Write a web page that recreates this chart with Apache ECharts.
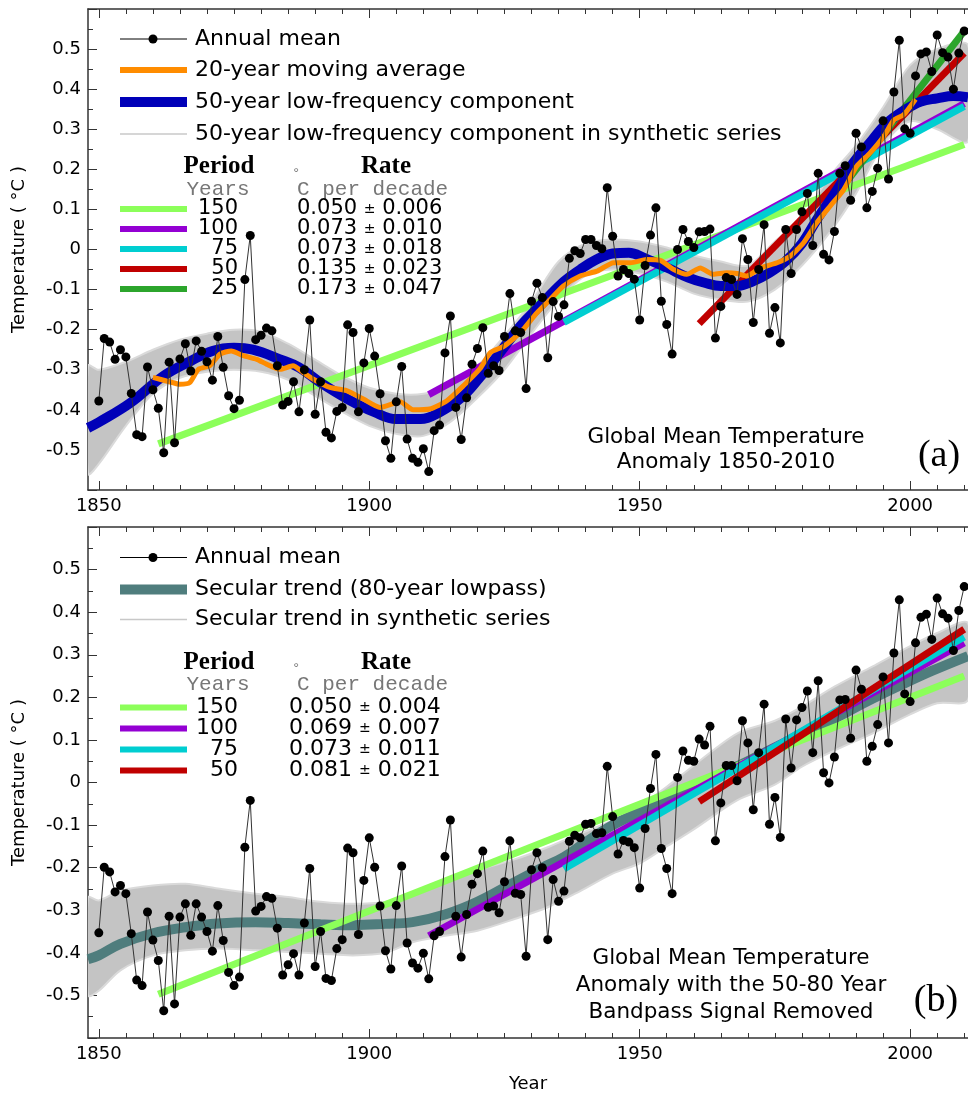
<!DOCTYPE html>
<html>
<head>
<meta charset="utf-8">
<script src="https://cdn.jsdelivr.net/npm/echarts@6/dist/echarts.min.js"></script>
<style>
  html, body { margin: 0; padding: 0; background: #fff; }
  #chart { width: 968px; height: 1098px; }
</style>
</head>
<body>
<div id="chart"></div>
<script>
// ---- data ----
const firstYear = 1850;

// (a) annual global mean temperature anomaly, 1850-2010
const annualTop = [
  -0.378,-0.222,-0.231,-0.274,-0.250,-0.268,-0.359,-0.462,-0.467,-0.293,
  -0.350,-0.396,-0.507,-0.281,-0.482,-0.273,-0.235,-0.303,-0.228,-0.254,
  -0.280,-0.326,-0.217,-0.294,-0.365,-0.397,-0.376,-0.075, 0.035,-0.225,
  -0.214,-0.196,-0.203,-0.290,-0.388,-0.379,-0.330,-0.405,-0.300,-0.176,
  -0.411,-0.330,-0.456,-0.470,-0.404,-0.394,-0.188,-0.207,-0.405,-0.283,
  -0.197,-0.266,-0.360,-0.477,-0.521,-0.380,-0.292,-0.473,-0.521,-0.531,
  -0.497,-0.554,-0.452,-0.438,-0.258,-0.166,-0.394,-0.474,-0.370,-0.286,
  -0.247,-0.195,-0.309,-0.290,-0.302,-0.217,-0.110,-0.203,-0.207,-0.347,
  -0.129,-0.084,-0.120,-0.270,-0.130,-0.167,-0.138,-0.022,-0.003,-0.010,
   0.025, 0.025, 0.010, 0.002, 0.154, 0.033,-0.066,-0.050,-0.060,-0.074,
  -0.176,-0.040, 0.036, 0.104,-0.129,-0.187,-0.261, 0.000, 0.050, 0.020,
   0.005, 0.044, 0.045, 0.051,-0.221,-0.142,-0.070,-0.075,-0.112, 0.027,
  -0.025,-0.182,-0.050, 0.062,-0.209,-0.145,-0.233, 0.050,-0.060, 0.050,
   0.094, 0.140, 0.010, 0.190,-0.012,-0.026, 0.045, 0.190, 0.209, 0.123,
   0.290, 0.256, 0.104, 0.145, 0.203, 0.321, 0.176, 0.393, 0.522, 0.301,
   0.290, 0.433, 0.488, 0.493, 0.444, 0.535, 0.491, 0.480, 0.400, 0.490,
   0.545
];

// (b) annual mean with the 50-80 year bandpass signal removed
const annualBottom = [
  -0.353,-0.199,-0.210,-0.257,-0.242,-0.261,-0.355,-0.464,-0.477,-0.304,
  -0.370,-0.418,-0.536,-0.314,-0.520,-0.316,-0.285,-0.359,-0.285,-0.316,
  -0.350,-0.396,-0.289,-0.371,-0.446,-0.477,-0.457,-0.152,-0.042,-0.302,
  -0.291,-0.268,-0.272,-0.342,-0.452,-0.428,-0.402,-0.452,-0.330,-0.202,
  -0.432,-0.350,-0.460,-0.465,-0.390,-0.369,-0.154,-0.165,-0.357,-0.230,
  -0.130,-0.199,-0.290,-0.395,-0.438,-0.289,-0.196,-0.377,-0.424,-0.436,
  -0.401,-0.461,-0.360,-0.350,-0.174,-0.088,-0.314,-0.410,-0.310,-0.239,
  -0.214,-0.161,-0.293,-0.290,-0.306,-0.233,-0.137,-0.260,-0.263,-0.408,
  -0.205,-0.165,-0.200,-0.369,-0.228,-0.279,-0.255,-0.138,-0.124,-0.130,
  -0.098,-0.096,-0.120,-0.118, 0.038,-0.080,-0.168,-0.136,-0.140,-0.153,
  -0.248,-0.108,-0.014, 0.066,-0.155,-0.202,-0.261, 0.012, 0.074, 0.052,
   0.050, 0.102, 0.088, 0.132,-0.137,-0.048, 0.040, 0.040, 0.004, 0.145,
   0.093,-0.064, 0.070, 0.184,-0.098,-0.035,-0.129, 0.149, 0.034, 0.147,
   0.176, 0.215, 0.070, 0.239, 0.023,-0.001, 0.060, 0.194, 0.195, 0.104,
   0.264, 0.219, 0.050, 0.085, 0.136, 0.248, 0.093, 0.304, 0.429, 0.208,
   0.190, 0.328, 0.388, 0.395, 0.336, 0.433, 0.396, 0.386, 0.310, 0.404,
   0.460
];

// 20-year moving average [year, value]
const movingAvg20 = [
  [1860,-0.319],[1862.5,-0.328],[1865,-0.336],[1866.8,-0.332],[1868.4,-0.299],
  [1870.5,-0.290],[1872.4,-0.261],[1874.5,-0.253],[1876.7,-0.265],[1879.2,-0.274],
  [1881,-0.286],[1883.5,-0.299],[1885.9,-0.290],[1887.8,-0.307],[1889.6,-0.323],
  [1892.7,-0.344],[1895.8,-0.352],[1898.9,-0.373],[1902,-0.394],[1905.7,-0.380],
  [1908.1,-0.400],[1911.2,-0.398],[1914.3,-0.378],[1917.4,-0.340],[1920.5,-0.297],
  [1922.4,-0.257],[1924.8,-0.242],[1926.7,-0.222],[1928.5,-0.199],[1931,-0.158],
  [1933.5,-0.124],[1935.9,-0.091],[1939,-0.066],[1942.1,-0.054],[1945.2,-0.033],
  [1948.3,-0.033],[1951.3,-0.025],[1953.8,-0.027],[1956.3,-0.050],[1958.7,-0.062],
  [1961.2,-0.046],[1963.6,-0.062],[1966.1,-0.058],[1968,-0.060],[1969.8,-0.066],
  [1972.3,-0.046],[1975.4,-0.033],[1977.8,-0.017],[1980.3,0.017],[1982.7,0.066],
  [1985.2,0.108],[1987.7,0.149],[1990.1,0.207],[1992.6,0.241],[1995.1,0.282],
  [1997,0.323],[1998.8,0.336],[2001,0.375]
];

// 50-year low-frequency component [year, value]
const lowFreq50 = [
  [1848,-0.445],[1850,-0.431],[1856,-0.381],[1862,-0.315],[1867,-0.278],[1871,-0.253],
  [1875,-0.245],[1878.5,-0.250],[1883.5,-0.274],[1887,-0.294],[1891,-0.332],[1896,-0.373],
  [1901,-0.406],[1905,-0.423],[1909.5,-0.423],[1913,-0.406],[1917,-0.370],[1920.5,-0.318],
  [1924,-0.260],[1928,-0.190],[1931,-0.148],[1936,-0.080],[1939,-0.050],[1942,-0.025],
  [1945,-0.010],[1948,-0.008],[1951,-0.022],[1955,-0.045],[1959,-0.070],[1962,-0.083],
  [1965,-0.091],[1968,-0.091],[1971,-0.079],[1974,-0.058],[1977,-0.029],[1980,0.015],
  [1983,0.080],[1986.5,0.149],[1989.5,0.216],[1992.5,0.265],[1995.5,0.313],[1999,0.348],
  [2002,0.369],[2005,0.377],[2008,0.383],[2010.7,0.380]
];

// spread of the synthetic series [year, low, high]
const synthBandTop = [
  [1848,-0.56,-0.29],[1850,-0.535,-0.30],[1855,-0.44,-0.28],[1860,-0.36,-0.25],
  [1865,-0.32,-0.225],[1870,-0.305,-0.21],[1875,-0.30,-0.20],[1880,-0.305,-0.205],
  [1885,-0.325,-0.235],[1890,-0.365,-0.275],[1895,-0.405,-0.315],[1900,-0.44,-0.345],
  [1905,-0.46,-0.36],[1910,-0.465,-0.36],[1915,-0.43,-0.34],[1920,-0.37,-0.29],
  [1925,-0.30,-0.215],[1930,-0.21,-0.13],[1935,-0.125,-0.03],[1940,-0.065,0.015],
  [1945,-0.05,0.025],[1950,-0.06,0.02],[1955,-0.08,0.005],[1960,-0.11,-0.015],
  [1965,-0.125,-0.03],[1970,-0.13,-0.04],[1975,-0.10,0.02],[1980,-0.04,0.08],
  [1985,0.04,0.18],[1990,0.14,0.26],[1995,0.26,0.355],[2000,0.32,0.46],
  [2005,0.30,0.50],[2010.7,0.27,0.51]
];

// secular trend (80-year lowpass) [year, value]
const secularTrend = [
  [1848,-0.415],[1850,-0.406],[1854,-0.379],[1860,-0.354],[1866,-0.340],[1872,-0.331],
  [1879,-0.328],[1885,-0.330],[1891,-0.333],[1897,-0.335],[1903,-0.332],[1908,-0.328],
  [1914,-0.310],[1920,-0.280],[1926,-0.240],[1932,-0.200],[1936,-0.175],[1940,-0.140],
  [1945,-0.100],[1950,-0.070],[1955,-0.045],[1960,-0.012],[1965,0.020],[1970,0.050],
  [1975,0.082],[1980,0.113],[1986,0.150],[1992,0.190],[1998,0.227],[2004,0.262],
  [2010.7,0.297]
];

const synthBandBottom = [
  [1848,-0.50,-0.27],[1850,-0.489,-0.277],[1854,-0.441,-0.254],[1860,-0.406,-0.242],
  [1866,-0.394,-0.238],[1872,-0.39,-0.249],[1879,-0.394,-0.261],[1885,-0.398,-0.269],
  [1891,-0.402,-0.28],[1897,-0.406,-0.285],[1903,-0.40,-0.28],[1908,-0.375,-0.261],
  [1914,-0.36,-0.235],[1920,-0.348,-0.206],[1927,-0.32,-0.18],[1933,-0.293,-0.152],
  [1939,-0.255,-0.12],[1945,-0.214,-0.089],[1950,-0.19,-0.055],[1955,-0.15,-0.01],
  [1960,-0.11,0.04],[1968,-0.042,0.115],[1975,-0.005,0.145],[1980,0.037,0.178],
  [1986,0.075,0.225],[1993,0.115,0.272],[2000,0.16,0.32],[2005,0.186,0.351],
  [2010.7,0.194,0.374]
];

// linear trends: periods, rates and end points
const periodsTop = ['150', '100', '75', '50', '25'];
const ratesTop = [['0.050','0.006'], ['0.073','0.010'], ['0.073','0.018'], ['0.135','0.023'], ['0.173','0.047']];
const trendsTop = [
  [[1861,-0.485],[2010,0.262]],
  [[1911,-0.362],[2010,0.364]],
  [[1936,-0.182],[2010,0.357]],
  [[1961,-0.185],[2010,0.490]],
  [[1986,0.130],[2010,0.545]]
];
const periodsBottom = ['150', '100', '75', '50'];
const ratesBottom = [['0.050','0.004'], ['0.069','0.007'], ['0.073','0.011'], ['0.081','0.021']];
const trendsBottom = [
  [[1861,-0.497],[2010,0.250]],
  [[1911,-0.360],[2010,0.328]],
  [[1936,-0.203],[2010,0.342]],
  [[1961,-0.045],[2010,0.360]]
];
const trendColors = ['#8cff5a', '#9400d3', '#00ced1', '#c00000', '#2ca52c'];

const yearLabels = [1850, 1900, 1950, 2000];
const yLabels = [-0.5, -0.4, -0.3, -0.2, -0.1, 0, 0.1, 0.2, 0.3, 0.4, 0.5];

// ---- styling ----
const FONT = '"DejaVu Sans", Verdana, sans-serif';
const SERIF = '"Liberation Serif", "Times New Roman", serif';
const MONO = '"Liberation Mono", "Courier New", monospace';
const AXIS = '#333';
const X_MIN = 1848, X_MAX = 2010.7;
const minorYears = [];
for (let y = 1850; y <= 2010; y += 5) minorYears.push(y);

function xAxesFor(grid, withName) {
  const base = {
    type: 'value', gridIndex: grid, min: X_MIN, max: X_MAX,
    splitLine: { show: false }
  };
  const line = { show: true, onZero: false, lineStyle: { color: AXIS, width: 1.5 } };
  const noLine = { show: false, onZero: false };
  const tick = (vals, len) => ({ show: true, inside: true, length: len, customValues: vals,
    lineStyle: { color: AXIS, width: 1 } });
  return [
    Object.assign({}, base, {
      position: 'bottom', axisLine: line, axisTick: tick(minorYears, 5),
      axisLabel: { show: true, customValues: yearLabels, fontSize: 18, fontFamily: FONT,
        color: '#000', margin: 7, formatter: v => String(Math.round(v)) },
      name: withName ? 'Year' : '', nameLocation: 'middle', nameGap: 37,
      nameTextStyle: { fontSize: 18, fontFamily: FONT, color: '#000' }
    }),
    Object.assign({}, base, { position: 'bottom', axisLine: noLine,
      axisTick: tick(yearLabels, 9), axisLabel: { show: false } }),
    Object.assign({}, base, { position: 'top', axisLine: line,
      axisTick: tick(minorYears, 5), axisLabel: { show: false } }),
    Object.assign({}, base, { position: 'top', axisLine: noLine,
      axisTick: tick(yearLabels, 9), axisLabel: { show: false } })
  ];
}

function yAxisFor(grid) {
  return {
    type: 'value', gridIndex: grid, min: -0.6, max: 0.6, interval: 0.1,
    axisLine: { show: true, onZero: false, lineStyle: { color: AXIS, width: 1.5 } },
    axisTick: { show: true, inside: true, length: 9, lineStyle: { color: AXIS } },
    minorTick: { show: true, splitNumber: 2, length: 5, lineStyle: { color: AXIS } },
    splitLine: { show: false },
    axisLabel: {
      customValues: yLabels, fontSize: 18, fontFamily: FONT, color: '#000', margin: 7,
      formatter: v => (Math.abs(v) < 1e-9 ? '0' : String(+v.toFixed(2)))
    },
    name: 'Temperature ( °C )', nameLocation: 'middle', nameGap: 60,
    nameTextStyle: { fontSize: 18, fontFamily: FONT, color: '#000' }
  };
}

function bandSeries(band, xi, yi) {
  return {
    type: 'custom', xAxisIndex: xi, yAxisIndex: yi, silent: true, clip: true,
    data: band, encode: { x: 0, y: [1, 2] },
    renderItem: (params, api) => {
      if (params.dataIndex !== 0) return null;
      const pts = band.map(d => api.coord([d[0], d[2]]));
      for (let i = band.length - 1; i >= 0; i--) pts.push(api.coord([band[i][0], band[i][1]]));
      return { type: 'polygon', shape: { points: pts, smooth: 0.3 },
        style: { fill: '#c4c4c4', stroke: '#dadada', lineWidth: 2 } };
    }
  };
}

function lineSeries(data, xi, yi, color, width, smooth) {
  return {
    type: 'line', xAxisIndex: xi, yAxisIndex: yi, data: data, symbol: 'none',
    smooth: smooth || false, silent: true,
    lineStyle: { color: color, width: width, cap: 'butt' }
  };
}

function annualSeries(vals, xi, yi) {
  return {
    type: 'line', xAxisIndex: xi, yAxisIndex: yi, silent: true,
    data: vals.map((v, i) => [firstYear + i, v]),
    symbol: 'circle', symbolSize: 9, showAllSymbol: true,
    itemStyle: { color: '#000' },
    lineStyle: { color: '#333', width: 1 }
  };
}

// ---- legend and annotations ----
const g = [];
function txt(x, y, text, font, extra) {
  g.push({ type: 'text', z: 100, style: Object.assign({
    x: x, y: y, text: text, font: font, fill: '#000',
    align: 'left', textAlign: 'left', verticalAlign: 'middle', textVerticalAlign: 'middle'
  }, extra || {}) });
}
function swatch(y, color, h) {
  g.push({ type: 'rect', z: 100, shape: { x: 120, y: y - h / 2, width: 67, height: h },
    style: { fill: color } });
}
function annualSwatch(y) {
  g.push({ type: 'line', z: 100, shape: { x1: 120, y1: y, x2: 187, y2: y },
    style: { stroke: '#000', lineWidth: 1 } });
  g.push({ type: 'circle', z: 100, shape: { cx: 153, cy: y, r: 4.5 }, style: { fill: '#000' } });
}
function thinSwatch(y) {
  g.push({ type: 'line', z: 100, shape: { x1: 120, y1: y, x2: 187, y2: y },
    style: { stroke: '#c8c8c8', lineWidth: 1.5 } });
}
function rateTable(yHead, yRow0, step, periods, rates, rateX, fs) {
  const center = { align: 'center', textAlign: 'center' };
  txt(219, yHead, 'Period', 'bold 25px ' + SERIF, center);
  txt(386, yHead, 'Rate', 'bold 25px ' + SERIF, center);
  txt(218, yHead + 22, 'Years', '21px ' + MONO, Object.assign({ fill: '#777' }, center));
  txt(292, yHead + 7, '°', '14px ' + MONO, { fill: '#777' });
  txt(297, yHead + 22, 'C per decade', '21px ' + MONO, { fill: '#777' });
  periods.forEach((p, i) => {
    const y = yRow0 + step * i;
    swatch(y, trendColors[i], 6);
    txt(238, y, p, fs + 'px ' + FONT, { align: 'right', textAlign: 'right' });
    txt(rateX, y, '{n|' + rates[i][0] + '} {pm|±} {n|' + rates[i][1] + '}', fs + 'px ' + FONT, {
      rich: { n: { font: fs + 'px ' + FONT, fill: '#000' }, pm: { font: '14px ' + FONT, fill: '#000' } }
    });
  });
}

// top panel legend
annualSwatch(39);
txt(195, 39, 'Annual mean', '22px ' + FONT);
swatch(70, '#ff8c00', 6);
txt(195, 70, '20-year moving average', '22px ' + FONT);
swatch(102, '#0000b8', 10);
txt(195, 102, '50-year low-frequency component', '22px ' + FONT);
thinSwatch(134);
txt(195, 134, '50-year low-frequency component in synthetic series', '22px ' + FONT);
rateTable(167, 209, 20, periodsTop, ratesTop, 297, 21);
txt(726, 437, 'Global Mean Temperature', '21.5px ' + FONT, { align: 'center', textAlign: 'center' });
txt(726, 462, 'Anomaly 1850-2010', '21.5px ' + FONT, { align: 'center', textAlign: 'center' });
txt(939, 456, '(a)', '38px ' + SERIF, { align: 'center', textAlign: 'center' });

// bottom panel legend
annualSwatch(557.5);
txt(195, 557.5, 'Annual mean', '22px ' + FONT);
swatch(589.5, '#4f7d7d', 10);
txt(195, 589.5, 'Secular trend (80-year lowpass)', '22px ' + FONT);
thinSwatch(619.5);
txt(195, 619.5, 'Secular trend in synthetic series', '22px ' + FONT);
rateTable(662.5, 707.5, 21, periodsBottom, ratesBottom, 289, 22);
txt(731, 958, 'Global Mean Temperature', '21.5px ' + FONT, { align: 'center', textAlign: 'center' });
txt(731, 985, 'Anomaly with the 50-80 Year', '21.5px ' + FONT, { align: 'center', textAlign: 'center' });
txt(731, 1012, 'Bandpass Signal Removed', '21.5px ' + FONT, { align: 'center', textAlign: 'center' });
txt(936, 1001, '(b)', '38px ' + SERIF, { align: 'center', textAlign: 'center' });

// ---- series ----
const series = [];
// top panel: xAxis 0, yAxis 0
series.push(bandSeries(synthBandTop, 0, 0));
trendsTop.forEach((t, i) => series.push(lineSeries(t, 0, 0, trendColors[i], 7)));
series.push(lineSeries(lowFreq50, 0, 0, '#0000b8', 10, 0.4));
series.push(lineSeries(movingAvg20, 0, 0, '#ff8c00', 5, 0.2));
series.push(annualSeries(annualTop, 0, 0));
// bottom panel: xAxis 4, yAxis 1
series.push(bandSeries(synthBandBottom, 4, 1));
series.push(lineSeries(secularTrend, 4, 1, '#4f7d7d', 10, 0.4));
trendsBottom.forEach((t, i) => series.push(lineSeries(t, 4, 1, trendColors[i], 7)));
series.push(annualSeries(annualBottom, 4, 1));

const chart = echarts.init(document.getElementById('chart'), null, { renderer: 'canvas' });
chart.setOption({
  animation: false,
  backgroundColor: '#fff',
  grid: [
    { left: 88, top: 9, width: 880, height: 481 },
    { left: 88, top: 527, width: 880, height: 511 }
  ],
  xAxis: xAxesFor(0, false).concat(xAxesFor(1, true)),
  yAxis: [yAxisFor(0), yAxisFor(1)],
  series: series,
  graphic: { elements: g }
});
</script>
</body>
</html>
